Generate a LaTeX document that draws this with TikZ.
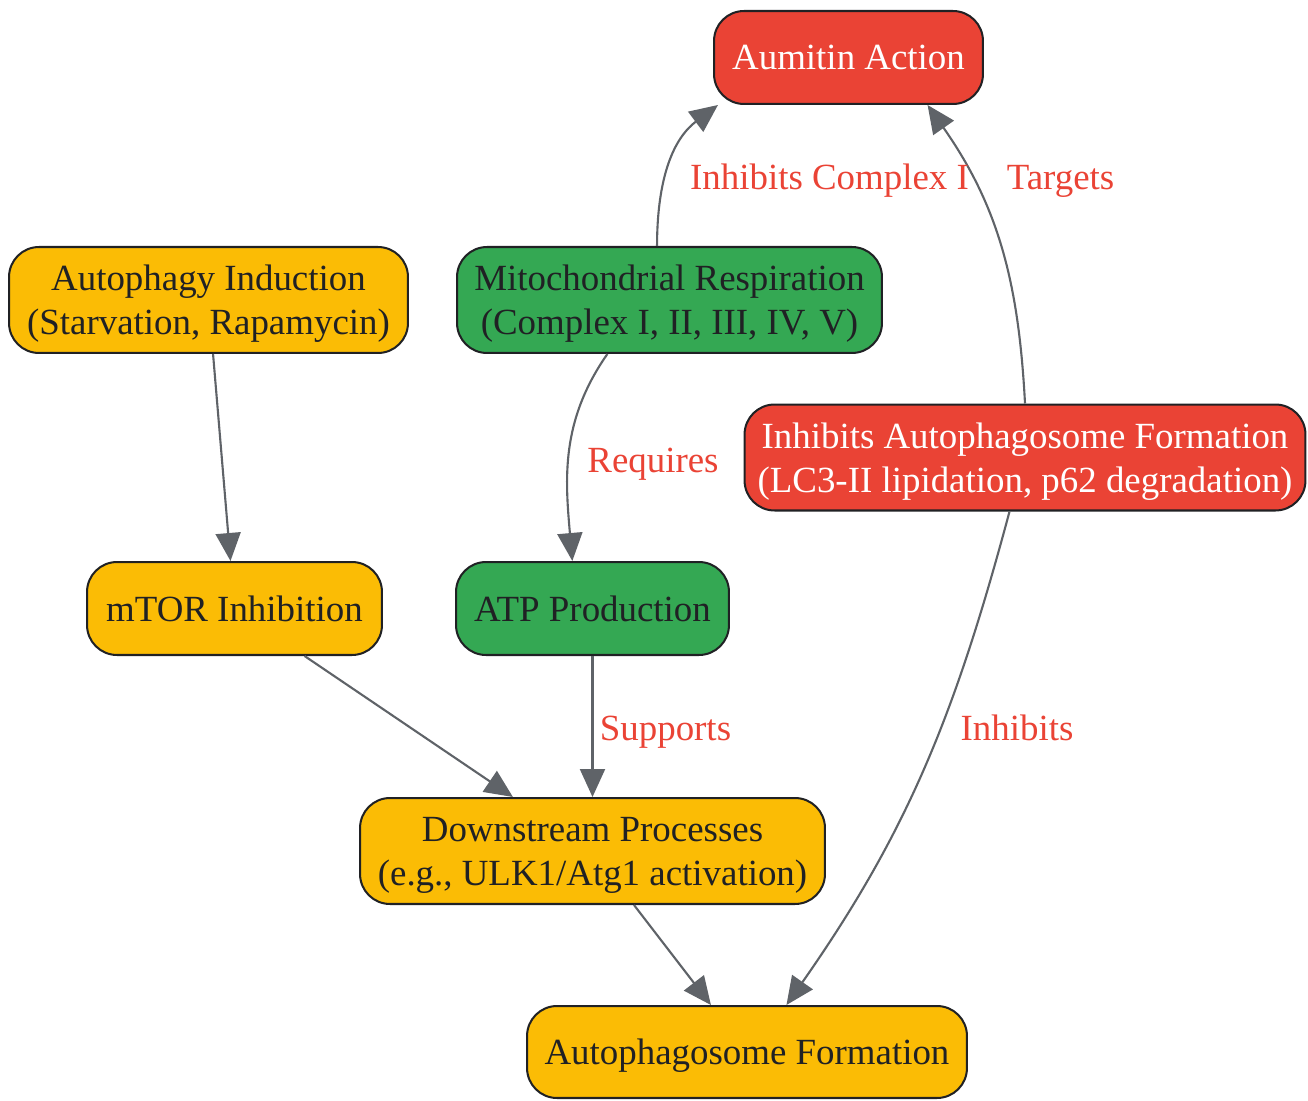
\documentclass[tikz,border=0pt]{standalone}
\usepackage{fontspec}
\setmainfont{Liberation Serif}
\usetikzlibrary{arrows.meta}
\definecolor{gred}{HTML}{EA4335}
\definecolor{ggreen}{HTML}{34A853}
\definecolor{gyellow}{HTML}{FBBC05}
\definecolor{ink}{HTML}{202124}
\definecolor{wire}{HTML}{5F6368}
\begin{document}
\begin{tikzpicture}[x = 0.02cm, y = -0.02cm,
	box/.style = {draw = ink, line width = 1.15pt, rounded corners = 0.6cm, inner sep = 0pt, text depth = 0pt, align = center, text = ink, font = \fontsize{21}{25}\selectfont},
	redbox/.style = {box, fill = gred, text = white},
	greenbox/.style = {box, fill = ggreen},
	yellowbox/.style = {box, fill = gyellow},
	link/.style = {draw = wire, line width = 1.2pt, -{Triangle[length = 0.56cm, width = 0.5cm]}},
	tag/.style = {text = gred, anchor = base, inner sep = 0pt, font = \fontsize{21}{25}\selectfont}]
	\useasboundingbox (0, 0) rectangle (1308, 1101);
	% nodes
	\node[redbox, minimum width = 5.38cm, minimum height = 1.86cm] (aumitin) at (848.5, 57.5) {Aumitin Action};
	\node[yellowbox, minimum width = 7.98cm, minimum height = 2.12cm] (induct) at (208.5, 300) {Autophagy Induction\\(Starvation, Rapamycin)};
	\node[greenbox, minimum width = 8.5cm, minimum height = 2.12cm] (mito) at (669.5, 300) {Mitochondrial Respiration\\(Complex I, II, III, IV, V)};
	\node[redbox, minimum width = 11.22cm, minimum height = 2.12cm] (inhaf) at (1025, 457.5) {Inhibits Autophagosome Formation\\(LC3-II lipidation, p62 degradation)};
	\node[yellowbox, minimum width = 5.9cm, minimum height = 1.86cm] (mtor) at (234.5, 608.5) {mTOR Inhibition};
	\node[greenbox, minimum width = 5.46cm, minimum height = 1.86cm] (atp) at (592.5, 608.5) {ATP Production};
	\node[yellowbox, minimum width = 9.3cm, minimum height = 2.12cm] (down) at (592.5, 851) {Downstream Processes\\(e.g., ULK1/Atg1 activation)};
	\node[yellowbox, minimum width = 8.8cm, minimum height = 1.84cm] (af) at (747, 1052) {Autophagosome Formation};
	% edges
	\foreach \src/\dst in {induct/mtor, mtor/down, atp/down, down/af}{
		\draw[link] (\src) -- (\dst);}
	\draw[link] (mito.103) to[out = 90, in = 217] (aumitin.200);
	\draw[link] (inhaf.north) to[out = 93, in = 305] (aumitin.329);
	\draw[link] (mito.221) to[out = 235, in = 95] (atp.113);
	\draw[link] (inhaf.254) to[out = 255, in = 55] (af.50);
	% edge labels
	\foreach \name/\x/\y/\txt in {lcomplex/829.5/190/Inhibits Complex I, ltargets/1060.5/190/Targets, lrequires/653/472/Requires, lsupports/665.5/740/Supports, linhibits/1017/740/Inhibits}{
		\node[tag] (\name) at (\x, \y) {\txt};}
\end{tikzpicture}
\end{document}
